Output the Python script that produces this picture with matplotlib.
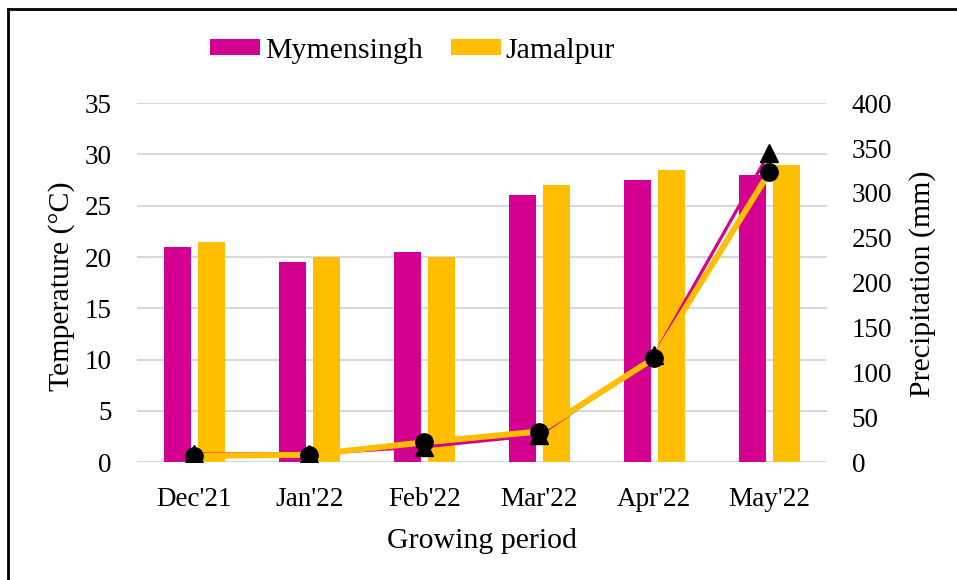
import matplotlib.pyplot as plt
import numpy as np
from matplotlib.lines import Line2D

plt.rcParams['font.family'] = ['Liberation Serif', 'DejaVu Serif']

# monthly data for the growing period
months = ["Dec'21", "Jan'22", "Feb'22", "Mar'22", "Apr'22", "May'22"]
temp_mym = [21, 19.5, 20.5, 26, 27.5, 28]
temp_jam = [21.5, 20, 20, 27, 28.5, 29]
rain_mym = [9, 9, 17, 30, 119, 345]
rain_jam = [7, 8, 22, 34, 116, 323]

c_mym = '#d4008f'
c_jam = '#ffbf00'

fig = plt.figure(figsize=(9.57, 5.8), dpi=100)
ax = fig.add_axes([0.143, 0.2034, 0.721, 0.6186])
ax2 = ax.twinx()

x = np.arange(len(months))
w = 0.235
ax.bar(x - 0.145, temp_mym, w, color=c_mym, label='Mymensingh', zorder=2)
ax.bar(x + 0.145, temp_jam, w, color=c_jam, label='Jamalpur', zorder=2)

ax.set_ylim(0, 35)
ax.set_yticks(range(0, 36, 5))
ax.set_xlim(-0.5, len(months) - 0.5)
ax.set_xticks(x)
ax.set_xticklabels(months)
ax.grid(axis='y', color='#d9d9d9', linewidth=1.5, zorder=0)
ax.set_axisbelow(True)
for s in ax.spines.values():
    s.set_visible(False)
ax.tick_params(axis='y', length=0, labelsize=19.5, pad=18)
ax.tick_params(axis='x', length=0, labelsize=19.5, pad=18)
ax.set_ylabel('Temperature (°C)', fontsize=21.5, va='center')
ax.yaxis.set_label_coords(-0.109, 0.49)
ax.set_xlabel('Growing period', fontsize=21.5)
ax.xaxis.set_label_coords(0.5, -0.185)

# precipitation lines on the right axis
ax2.plot(x, rain_mym, color=c_mym, lw=2.3, marker='^', ms=12.5,
         mfc='black', mec='black', zorder=3)
ax2.plot(x, rain_jam, color=c_jam, lw=4.3, marker='o', ms=12.5,
         mfc='black', mec='black', zorder=4)
ax2.set_ylim(0, 400)
ax2.set_yticks(range(0, 401, 50))
for s in ax2.spines.values():
    s.set_visible(False)
ax2.tick_params(length=0, labelsize=19.5, pad=18)
ax2.set_ylabel('Precipitation (mm)', fontsize=21.5, va='center', rotation=90)
ax2.yaxis.set_label_coords(1.139, 0.497)

fig.legend(loc='upper left', bbox_to_anchor=(0.2194, 0.935), ncol=2, frameon=False,
           fontsize=21.5, handlelength=1.67, handleheight=0.47, handletextpad=0.17,
           columnspacing=0.94, borderaxespad=0, borderpad=0)

# partial frame around the figure (top and left only)
fig.add_artist(Line2D([8/957, 1], [1 - 9/580, 1 - 9/580], color='black', lw=2,
                      transform=fig.transFigure))
fig.add_artist(Line2D([8/957, 8/957], [0, 1 - 9/580], color='black', lw=2,
                      transform=fig.transFigure))

fig.savefig('out.png', dpi=100)
